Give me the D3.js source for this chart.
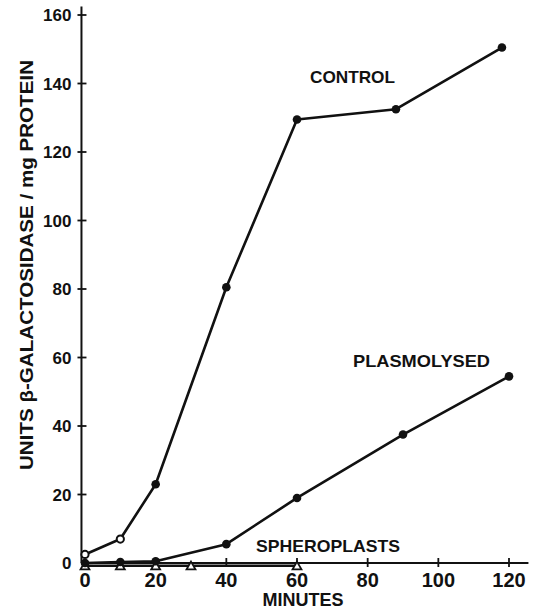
<!DOCTYPE html>
<html><head><meta charset="utf-8">
<script src="https://cdn.jsdelivr.net/npm/d3@7"></script>
<style>body{margin:0;background:#fff}svg{display:block}text{font-family:"Liberation Sans",Arial,sans-serif;font-weight:bold;fill:#111}</style>
</head><body>
<svg id="c" width="538" height="609"></svg>
<script>
const controlMin = [0,10,20,40,60,88,118];
const controlVal = [2.5,7,23,80.5,129.5,132.5,150.5];
const controlOpen = [true,true,false,false,false,false,false];
const plasMin = [0,10,20,40,60,90,120];
const plasVal = [0,0.3,0.5,5.5,19,37.5,54.5];
const spheroMin = [0,10,20,30,60];
const spheroVal = [-0.8,-0.8,-0.8,-0.8,-0.8];
const xTicks = [0,20,40,60,80,100,120];
const yTicks = [0,20,40,60,80,100,120,140,160];

const svg = d3.select("#c");
const x = d3.scaleLinear().domain([0,120]).range([85,509]);
const y = d3.scaleLinear().domain([0,160]).range([563,15]);
const ink = "#111";

// axes
svg.append("line").attr("x1",x(-1)).attr("x2",x(-1)).attr("y1",y(162.5)).attr("y2",y(0))
  .attr("stroke",ink).attr("stroke-width",2);
svg.append("line").attr("x1",x(-1)).attr("x2",x(125.5)).attr("y1",y(0)).attr("y2",y(0))
  .attr("stroke",ink).attr("stroke-width",2.2);
svg.selectAll(".yt").data(yTicks.filter(d=>d>0)).enter().append("line")
  .attr("x1",x(-1)-4).attr("x2",x(-1)+5).attr("y1",d=>y(d)).attr("y2",d=>y(d))
  .attr("stroke",ink).attr("stroke-width",1.8);
svg.selectAll(".xt").data(xTicks.filter(d=>d>0)).enter().append("line")
  .attr("x1",d=>x(d)).attr("x2",d=>x(d)).attr("y1",y(0)-5).attr("y2",y(0)+4)
  .attr("stroke",ink).attr("stroke-width",1.8);
svg.selectAll(".yl").data(yTicks).enter().append("text")
  .attr("x",x(-1)-10).attr("y",d=>y(d)).attr("dy","0.36em").attr("text-anchor","end")
  .attr("font-size",17).text(d=>d);
svg.selectAll(".xl").data(xTicks).enter().append("text")
  .attr("x",d=>x(d)).attr("y",587).attr("text-anchor","middle")
  .attr("font-size",20).text(d=>d);

svg.append("text").attr("x",303).attr("y",606).attr("text-anchor","middle")
  .attr("font-size",19).attr("textLength",81).attr("lengthAdjust","spacingAndGlyphs").text("MINUTES");
svg.append("text").attr("transform","translate(33,265) rotate(-90)").attr("text-anchor","middle")
  .attr("font-size",19).attr("textLength",410).attr("lengthAdjust","spacingAndGlyphs")
  .text("UNITS  β-GALACTOSIDASE / mg  PROTEIN");

const line = d3.line().x(d=>x(d[0])).y(d=>y(d[1]));
function series(mins, vals){ return mins.map((m,i)=>[m,vals[i]]); }
const ctrl = series(controlMin, controlVal);
const plas = series(plasMin, plasVal);
const sph = series(spheroMin, spheroVal);

[sph, plas, ctrl].forEach(s=>{
  svg.append("path").datum(s).attr("d",line).attr("fill","none")
    .attr("stroke",ink).attr("stroke-width",2.6).attr("stroke-linejoin","round");
});

svg.selectAll(".sph").data(sph).enter().append("path")
  .attr("d",d3.symbol().type(d3.symbolTriangle).size(34))
  .attr("transform",d=>`translate(${x(d[0])},${y(d[1])+1})`)
  .attr("fill","#fff").attr("stroke",ink).attr("stroke-width",1.8);
svg.selectAll(".pl").data(plas).enter().append("circle")
  .attr("cx",d=>x(d[0])).attr("cy",d=>y(d[1])).attr("r",4.3).attr("fill",ink);
svg.selectAll(".ct").data(ctrl).enter().append("circle")
  .attr("cx",d=>x(d[0])).attr("cy",d=>y(d[1]))
  .attr("r",(d,i)=>controlOpen[i]?3.6:4.3)
  .attr("fill",(d,i)=>controlOpen[i]?"#fff":ink)
  .attr("stroke",ink).attr("stroke-width",(d,i)=>controlOpen[i]?2:0);

svg.append("text").attr("x",310).attr("y",83).attr("font-size",17).attr("textLength",85).attr("lengthAdjust","spacingAndGlyphs").text("CONTROL");
svg.append("text").attr("x",353).attr("y",367).attr("font-size",17).attr("textLength",137).attr("lengthAdjust","spacingAndGlyphs").text("PLASMOLYSED");
svg.append("text").attr("x",256).attr("y",552).attr("font-size",17).attr("textLength",144).attr("lengthAdjust","spacingAndGlyphs").text("SPHEROPLASTS");
</script>
</body></html>
